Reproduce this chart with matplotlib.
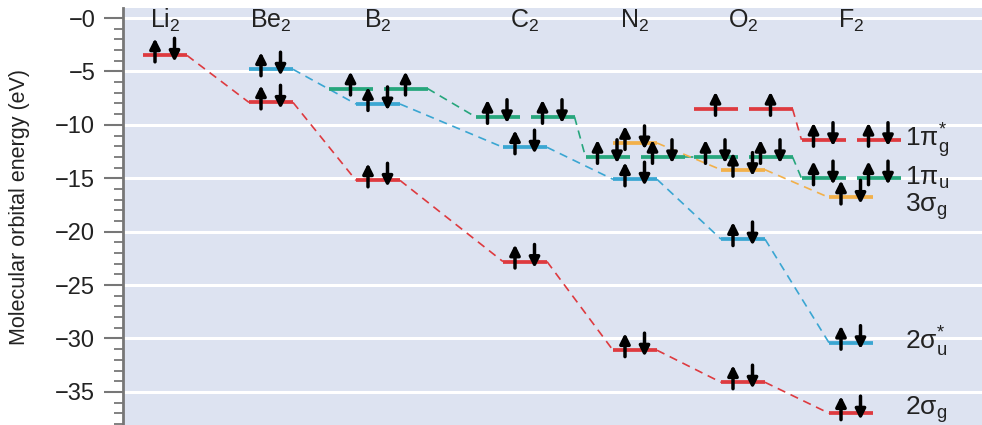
import numpy as np
import matplotlib
matplotlib.use("Agg")
import matplotlib.pyplot as plt
from matplotlib.ticker import MultipleLocator, FuncFormatter

plt.rcParams['font.family'] = ['Liberation Sans', 'DejaVu Sans']
plt.rcParams['mathtext.fontset'] = 'custom'
plt.rcParams['mathtext.rm'] = 'Liberation Sans'
plt.rcParams['mathtext.it'] = 'Liberation Sans:italic'

nan = np.nan

# molecules (columns)
molecules = ["Li$_2$", "Be$_2$", "B$_2$", "C$_2$", "N$_2$", "O$_2$", "F$_2$"]

# orbital energies (eV), nan = not shown
e_2sg = [-3.5, -7.9, -15.2, -22.8, -31.1, -34.1, -37.0]
e_2su = [nan, -4.8, -8.05, -12.1, -15.1, -20.7, -30.4]
e_1pu = [nan, nan, -6.6, -9.25, -13.0, -13.0, -15.0]
e_3sg = [nan, nan, nan, nan, -11.7, -14.2, -16.8]
e_1pg = [nan, nan, nan, nan, nan, -8.5, -11.4]

# electrons in each level (per component for the pi pairs)
n_2sg = [2, 2, 2, 2, 2, 2, 2]
n_2su = [0, 2, 2, 2, 2, 2, 2]
n_1pu = [0, 0, 1, 2, 2, 2, 2]
n_3sg = [0, 0, 0, 0, 2, 2, 2]
n_1pg = [0, 0, 0, 0, 0, 1, 2]

# orbital names written at the right
orb_labels = ["1π$_\\mathrm{g}^{*}$", "1π$_\\mathrm{u}$", "3σ$_\\mathrm{g}$",
              "2σ$_\\mathrm{u}^{*}$", "2σ$_\\mathrm{g}$"]

red = "#de3a3f"
blue = "#3aa6d2"
green = "#26a67c"
orange = "#f2b04a"

# series: energies, electrons, colour, degenerate pair?
series = [
    (e_2sg, n_2sg, red, False),
    (e_2su, n_2su, blue, False),
    (e_1pu, n_1pu, green, True),
    (e_3sg, n_3sg, orange, False),
    (e_1pg, n_1pg, red, True),
]

# layout (x in pixel-like units of the axes)
col_x = [165, 271, 378, 525, 635, 743, 851]
pair_dx = 27.5
hw = 22
label_dy = [0, 0, -0.7, 0, 0.5]

fig = plt.figure(figsize=(9.82, 4.25), dpi=100)
ax = fig.add_axes([123 / 982, 0, 859 / 982, 417 / 425])
ax.set_facecolor("#dde3f1")
ax.set_xlim(123, 982)
ax.set_ylim(-38.1, 0.94)

for s in ["top", "right", "bottom"]:
    ax.spines[s].set_visible(False)
ax.spines["left"].set_color("#777777")
ax.spines["left"].set_linewidth(2)

ax.yaxis.set_major_locator(MultipleLocator(5))
ax.yaxis.set_minor_locator(MultipleLocator(1))
ax.yaxis.set_major_formatter(FuncFormatter(lambda v, p: "\u2212%d" % abs(round(v))))
ax.tick_params(axis="y", which="major", length=14, width=1.5, color="#777777",
               labelsize=17, pad=6, labelcolor="#222222")
ax.tick_params(axis="y", which="minor", length=6.5, width=1.3, color="#777777")
ax.set_xticks([])
ax.grid(axis="y", which="major", color="white", lw=2.2)
ax.set_axisbelow(True)

fig.text(20 / 982, 1 - 207 / 425, "Molecular orbital energy (eV)", rotation=90,
         ha="center", va="center", fontsize=15.5, color="#222222")


def arrow(x, y, up):
    lo, hi = y - 0.6, y + 1.6
    a, b = ((x, lo), (x, hi)) if up else ((x, hi), (x, lo))
    ax.annotate("", xy=b, xytext=a,
                arrowprops=dict(arrowstyle="-|>", lw=2.5, color="black",
                                mutation_scale=15, shrinkA=0, shrinkB=0),
                zorder=5)


for energies, electrons, color, pair in series:
    idx = [i for i, e in enumerate(energies) if not np.isnan(e)]
    # dashed correlation lines
    for i, j in zip(idx[:-1], idx[1:]):
        off = pair_dx if pair else 0
        x0 = col_x[i] + off + hw
        x1 = col_x[j] - off - hw
        ax.plot([x0, x1], [energies[i], energies[j]], color=color, lw=1.2,
                dashes=(5, 3.5), zorder=2)
    for i in idx:
        centers = [col_x[i] - pair_dx, col_x[i] + pair_dx] if pair else [col_x[i]]
        for c in centers:
            ax.plot([c - hw, c + hw], [energies[i]] * 2, color=color, lw=2.7,
                    solid_capstyle="butt", zorder=3)
            n = electrons[i]
            if n == 1:
                arrow(c, energies[i], True)
            elif n == 2:
                arrow(c - 10, energies[i], True)
                arrow(c + 9.5, energies[i], False)

for i, name in enumerate(molecules):
    ax.text(col_x[i], -0.94, name, ha="center", va="baseline", fontsize=18,
            color="#222222")

right_e = [e_1pg[-1], e_1pu[-1], e_3sg[-1], e_2su[-1], e_2sg[-1]]
for lab, e, dy in zip(orb_labels, right_e, label_dy):
    ax.text(905, e - 0.65 + dy, lab, ha="left", va="baseline", fontsize=19,
            color="#222222")

fig.savefig("out.png", dpi=100)
